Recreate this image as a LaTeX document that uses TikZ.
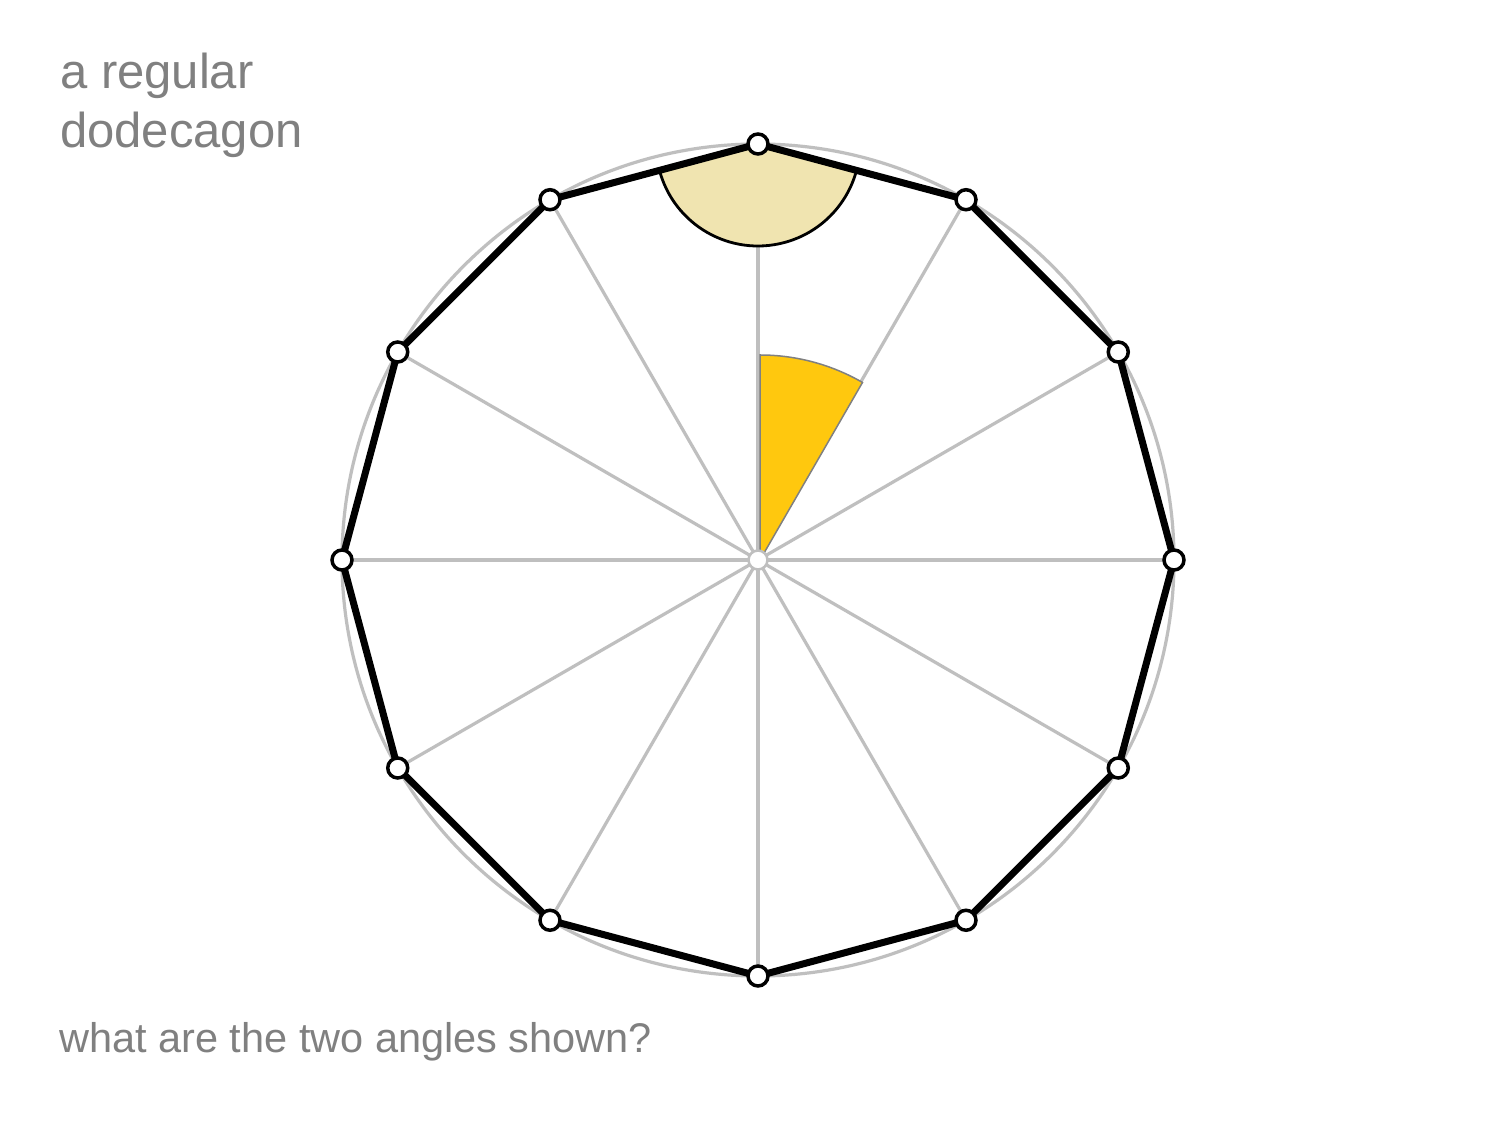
\documentclass[tikz,border=0pt]{standalone}
\usepackage{fontspec}
\setmainfont{Liberation Sans}
\usetikzlibrary{calc}
\begin{document}
\begin{tikzpicture}[x=1pt,y=1pt,
  spoke/.style={draw=lightg, line width=3.2pt},
  edge/.style={draw=black, line width=7pt, line join=round},
  vdot/.style={circle, draw=black, fill=white, line width=3.5pt, minimum size=20pt, inner sep=0pt},
  label/.style={text=textg, inner sep=0pt, font=\fontsize{49}{60}\selectfont},
  qlabel/.style={text=textg, inner sep=0pt, font=\fontsize{41.5}{50}\selectfont}]
\definecolor{lightg}{RGB}{191,191,191}
\definecolor{textg}{RGB}{128,128,128}
\definecolor{khaki}{RGB}{240,228,176}
\definecolor{gold}{RGB}{255,200,14}
\useasboundingbox[fill=white] (0,0) rectangle (1500,1125);
\coordinate (C) at (758,565);
\foreach \i in {0,...,11}{
  \coordinate (v\i) at ($(C)+({90-30*\i}:416)$);
}
% circle
\draw[lightg, line width=3.2pt] (C) circle (416);
% spokes
\foreach \i in {0,...,11}{ \draw[spoke] (C) -- (v\i); }
% interior angle sector
\draw[fill=khaki, draw=black, line width=2.8pt] (v0) -- ++(195:102) arc (195:345:102) -- cycle;
% central angle sector
\draw[fill=gold, draw=gray, line width=1.5pt] ($(C)+(2,0)$) -- ++(90:205) arc (90:60:205) -- cycle;
% polygon
\draw[edge] (v0) -- (v1) -- (v2) -- (v3) -- (v4) -- (v5) -- (v6) -- (v7) -- (v8) -- (v9) -- (v10) -- (v11) -- cycle;
% center dot
\node[circle, draw=lightg, fill=white, line width=2.5pt, minimum size=19pt, inner sep=0pt] (c) at (C) {};
% vertex dots
\foreach \i in {0,...,11}{ \node[vdot] (d\i) at (v\i) {}; }
% texts
\node[label, anchor=base west] (t1) at (60,1036) {a regular};
\node[label, anchor=base west] (t2) at (60,977) {dodecagon};
\node[qlabel, anchor=base west] (q) at (59,72) {what are the two angles shown?};
\end{tikzpicture}
\end{document}
